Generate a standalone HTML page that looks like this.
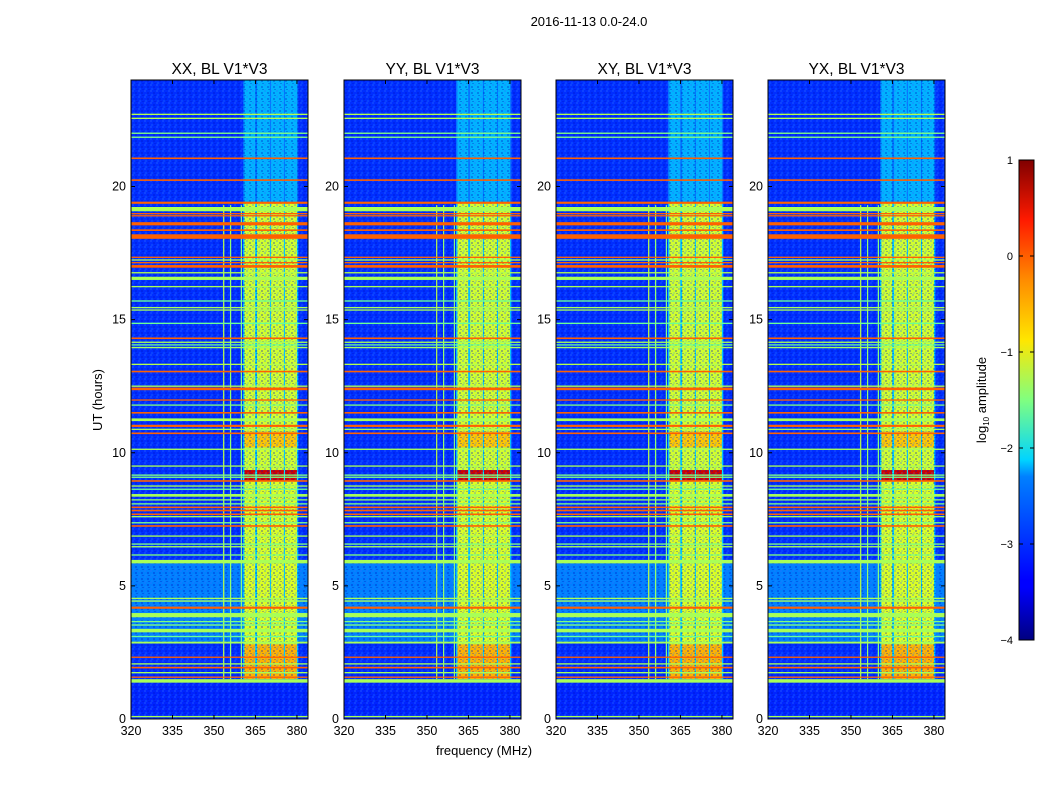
<!DOCTYPE html>
<html><head><meta charset="utf-8">
<style>
body{margin:0;background:#fff;width:1050px;height:800px;overflow:hidden;font-family:"Liberation Sans","DejaVu Sans",sans-serif;}
svg text{font-family:"Liberation Sans","DejaVu Sans",sans-serif;}
</style></head>
<body>
<svg id="fig" width="1050" height="800" xmlns="http://www.w3.org/2000/svg">
<defs>
<linearGradient id="jet" x1="0" y1="1" x2="0" y2="0">
<stop offset="0" stop-color="#000080"/><stop offset="0.11" stop-color="#0000ff"/>
<stop offset="0.125" stop-color="#0000ff"/><stop offset="0.34" stop-color="#0080ff"/>
<stop offset="0.375" stop-color="#00d4ff"/><stop offset="0.5" stop-color="#80ff80"/>
<stop offset="0.625" stop-color="#ffe600"/><stop offset="0.75" stop-color="#ff8c00"/>
<stop offset="0.875" stop-color="#ff1a00"/><stop offset="1" stop-color="#800000"/>
</linearGradient>
<pattern id="noise" width="6" height="6" patternUnits="userSpaceOnUse">
<rect x="0" y="0" width="2" height="2" fill="#3070ff" opacity="0.3"/>
<rect x="3" y="2" width="2" height="2" fill="#0010c0" opacity="0.3"/>
<rect x="1" y="4" width="2" height="2" fill="#2a90ff" opacity="0.2"/>
<rect x="4" y="5" width="2" height="1" fill="#0010c0" opacity="0.3"/>
</pattern>
</defs>
<text x="589" y="26" font-size="13" text-anchor="middle">2016-11-13 0.0-24.0</text>
<text x="484" y="755" font-size="13" text-anchor="middle">frequency (MHz)</text>
<text x="0" y="0" font-size="13" text-anchor="middle" transform="translate(102,400) rotate(-90)">UT (hours)</text>
<g id="panels"></g>
<g id="cbar">
<rect x="1019" y="160" width="15" height="480" fill="url(#jet)" stroke="#000" stroke-width="1"/>
</g>
<text x="0" y="0" font-size="13" text-anchor="middle" transform="translate(986,400) rotate(-90)">log<tspan font-size="8" dy="3">10</tspan><tspan dy="-3"> amplitude</tspan></text>
</svg>
<script>
// ---- data ----
const panelTitles = ["XX, BL V1*V3","YY, BL V1*V3","XY, BL V1*V3","YX, BL V1*V3"];
const xTicks = [320,335,350,365,380];
const yTicks = [0,5,10,15,20];
const cbarTicks = [1,0,-1,-2,-3,-4];
const backgroundLevel = -3.15;
const bgStart = [5.85, 1.4];
const bgEnd   = [2.85, 0.0];
const bgLevel = [-2.75, -3.2];
const bandLo = [361.0, 365.6, 370.6, 375.7];
const bandHi = [364.9, 370.2, 375.3, 380.0];
const segStart = [24.0, 19.4, 10.8, 10.2, 9.35, 8.95, 2.8];
const segEnd   = [19.4, 10.8, 10.2, 9.35, 8.95, 2.8, 1.5];
const segLevel = [-2.5, -1.1, -0.6, -1.1, 0.6, -1.05, -0.5];
const gapLevels = [-2.8, -2.4, -2.4, -2.4, -2.2, -2.4, -2.4];
const vFreq = [353.3, 355.8, 359.7];
const vLevel = [-1.2, -1.4, -1.5];
const rfiHour = [22.71,22.56,22.0,21.85,21.06,20.24,19.39,19.15,18.98,18.9,18.6,18.36,18.12,17.34,17.24,17.14,17.0,16.76,16.55,16.24,15.7,15.45,15.36,14.86,14.3,14.15,14.05,13.95,13.32,13.05,12.5,12.4,11.98,11.79,11.5,11.24,11.01,10.88,10.73,10.13,9.5,9.16,9.08,8.94,8.75,8.63,8.4,8.23,8.08,7.95,7.83,7.69,7.6,7.37,7.25,6.87,6.57,6.47,6.16,5.91,4.53,4.43,4.18,3.9,3.66,3.53,3.32,3.1,2.87,2.32,2.07,1.93,1.74,1.57,1.43,0.09];
const rfiWidth = [0.05,0.05,0.05,0.05,0.06,0.06,0.08,0.16,0.05,0.05,0.12,0.06,0.17,0.05,0.05,0.05,0.1,0.05,0.12,0.05,0.05,0.05,0.05,0.05,0.06,0.05,0.05,0.05,0.05,0.06,0.05,0.1,0.05,0.05,0.06,0.1,0.08,0.05,0.06,0.05,0.05,0.05,0.05,0.06,0.05,0.05,0.1,0.05,0.05,0.06,0.06,0.06,0.05,0.05,0.06,0.05,0.05,0.05,0.05,0.13,0.05,0.05,0.08,0.16,0.05,0.05,0.13,0.05,0.07,0.05,0.05,0.06,0.05,0.05,0.13,0.05];
const rfiLevel = [-1.25,-1.25,-1.5,-1.5,-0.1,-0.1,-0.1,-1.3,-0.1,-0.1,-0.1,-0.1,-0.1,-0.1,-1.3,-0.1,-0.1,-1.25,-1.3,-1.3,-1.6,-1.3,-1.3,-1.6,-0.1,-1.3,-1.6,-1.3,-1.25,-0.1,-1.25,-0.1,-0.1,-1.5,-0.1,-1.3,-0.1,-1.3,-0.1,-1.3,-1.3,-1.5,-1.5,-0.1,-1.3,-1.6,-1.3,-1.4,-1.5,-0.1,-0.1,-0.1,-1.3,-1.5,-0.1,-1.3,-1.5,-1.3,-1.5,-1.3,-1.3,-1.3,-0.1,-1.3,-1.5,-1.5,-1.3,-1.6,-1.3,-0.1,-1.3,-0.1,-1.3,-0.1,-1.3,-1.3];

// ---- layout ----
const panelLeft = [131,344,556,768];
const pw = 177, plotTop = 80, plotBottom = 719;
const fMin = 320, fMax = 384, hMin = 0, hMax = 24;
const NS = "http://www.w3.org/2000/svg";
function jet(v){
  let t=(v+4)/5; t=Math.max(0,Math.min(1,t));
  const c=x=>Math.round(255*Math.max(0,Math.min(1,x)));
  return `rgb(${c(1.5-Math.abs(4*t-3))},${c(1.5-Math.abs(4*t-2))},${c(1.5-Math.abs(4*t-1))})`;
}
function mk(tag,attrs,parent){const e=document.createElementNS(NS,tag);for(const k in attrs)e.setAttribute(k,attrs[k]);parent.appendChild(e);return e;}
const panels=document.getElementById('panels');
panelLeft.forEach((L,pi)=>{
  const xs=f=>L+(f-fMin)/(fMax-fMin)*pw;
  const ys=h=>plotBottom-(h-hMin)/(hMax-hMin)*(plotBottom-plotTop);
  const g=mk('g',{},panels);
  
  
  const bg=mk('rect',{x:L,y:plotTop,width:pw,height:plotBottom-plotTop,fill:jet(backgroundLevel)},g);
  
  
  bgStart.forEach((s,i)=>{
    const r=mk('rect',{x:L,y:ys(s),width:pw,height:ys(bgEnd[i])-ys(s),fill:jet(bgLevel[i])},g);
    
    
  });
  segStart.forEach((s,si)=>{
    const gr=mk('rect',{x:xs(bandLo[0]-0.5),y:ys(s),width:xs(bandHi[3]+0.5)-xs(bandLo[0]-0.5),height:ys(segEnd[si])-ys(s),fill:jet(gapLevels[si])},g);
    
    
    bandLo.forEach((lo,bi)=>{
      const c=mk('rect',{x:xs(lo),y:ys(s),width:xs(bandHi[bi])-xs(lo),height:ys(segEnd[si])-ys(s),fill:jet(segLevel[si])},g);
      
      
    });
  });
  const nz=mk('rect',{x:L,y:plotTop,width:pw,height:plotBottom-plotTop,fill:'url(#noise)'},g);
  
  
  vFreq.forEach((f,i)=>{
    const v=mk('rect',{x:xs(f),y:ys(19.3),width:1.2,height:ys(1.5)-ys(19.3),fill:jet(vLevel[i])},g);
    
    
  });
  rfiHour.forEach((h,i)=>{
    const y0=ys(h+rfiWidth[i]/2), y1=ys(h-rfiWidth[i]/2);
    const r=mk('rect',{x:L,y:y0,width:pw,height:Math.max(1.3,y1-y0),fill:jet(rfiLevel[i])},g);
    
    
  });
  const fr=mk('rect',{x:L,y:plotTop,width:pw,height:plotBottom-plotTop,fill:'none',stroke:'#000','stroke-width':1},g);
  
  
  const t=mk('text',{x:L+pw/2,y:74,'font-size':15.5,'text-anchor':'middle'},g);
  t.textContent=panelTitles[pi];
  
  
  xTicks.forEach(f=>{
    const x=xs(f);
    mk('line',{x1:x,x2:x,y1:plotBottom,y2:plotBottom-4,stroke:'#000'},g);
    mk('line',{x1:x,x2:x,y1:plotTop,y2:plotTop+4,stroke:'#000'},g);
    const tl=mk('text',{x:x,y:plotBottom+16,'font-size':12.5,'text-anchor':'middle'},g);
    tl.textContent=f;
    
    
  });
  yTicks.forEach(h=>{
    const y=ys(h);
    mk('line',{x1:L,x2:L+4,y1:y,y2:y,stroke:'#000'},g);
    mk('line',{x1:L+pw,x2:L+pw-4,y1:y,y2:y,stroke:'#000'},g);
    const tl=mk('text',{x:L-5,y:y+4,'font-size':12.5,'text-anchor':'end'},g);
    tl.textContent=h;
    
    
  });
});
const cb=document.getElementById('cbar');
cbarTicks.forEach(v=>{
  const y=160+(1-v)/5*480;
  mk('line',{x1:1019,x2:1023,y1:y,y2:y,stroke:'#000'},cb);
  mk('line',{x1:1034,x2:1030,y1:y,y2:y,stroke:'#000'},cb);
  const tl=mk('text',{x:1013,y:y+4,'font-size':11,'text-anchor':'end'},cb);
  tl.textContent=v<0?'\u2212'+(-v):String(v);
  
  
});
</script>
</body></html>
